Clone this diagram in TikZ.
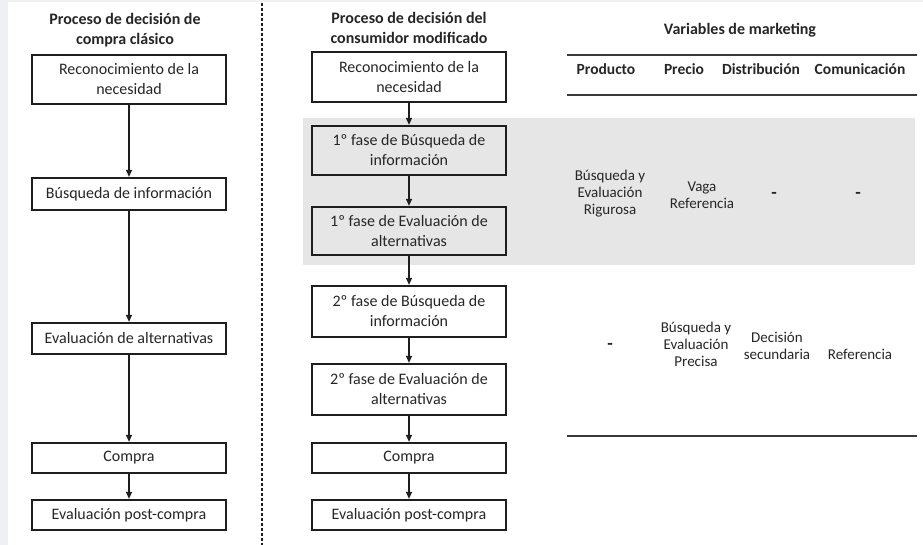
\documentclass[tikz,border=0pt]{standalone}
\usepackage{fontspec}
\setmainfont{Carlito}
\usetikzlibrary{arrows.meta}
\definecolor{boxc}{HTML}{1E1E1E}
\definecolor{txt}{HTML}{262626}
\definecolor{band}{HTML}{E6E6E6}
\definecolor{frame}{HTML}{EEF0F3}
\definecolor{rule}{HTML}{3A3A3A}
\begin{document}
\begin{tikzpicture}[x=1pt,y=-1pt,
  every node/.style={text=txt},
  stepbox/.style={draw=boxc, line width=2.3pt, fill=white, minimum width=194pt,
    align=center, inner sep=0pt, font=\fontsize{16}{20}\selectfont},
  title/.style={align=center, font=\fontsize{16}{20}\selectfont\bfseries},
  cell/.style={align=center, font=\fontsize{15}{17}\selectfont},
  dashcell/.style={font=\fontsize{18}{17}\selectfont\bfseries},
  head/.style={font=\fontsize{15.5}{17}\selectfont\bfseries},
  arr/.style={draw=boxc, line width=1.2pt, -{Triangle[width=6pt,length=7pt]}},
  tabrule/.style={draw=rule, line width=2pt}]
\useasboundingbox (0,0) rectangle (923,545);
% page frame
\fill[white] (0,0) rectangle (923,545);
\fill[frame] (0,0) rectangle (8,545);
\fill[frame] (0,0) rectangle (923,2.5);

% shaded band for the first search/evaluation phase
\fill[band] (303,118) rectangle (915,265);

% separator between the two processes
\draw[boxc, line width=1.2pt, dash pattern=on 3pt off 2pt] (262,3) -- (262,545);

% classic process
\node[title] (tL) at (125,30) {Proceso de decisión de\\compra clásico};
\node[stepbox, minimum height=49pt] (L1) at (129,79.5) {Reconocimiento de la\\necesidad};
\node[stepbox, minimum height=32pt] (L2) at (129,194) {Búsqueda de información};
\node[stepbox, minimum height=31pt] (L3) at (129,338.5) {Evaluación de alternativas};
\node[stepbox, minimum height=30pt] (L4) at (129,458) {Compra};
\node[stepbox, minimum height=30pt] (L5) at (129,515) {Evaluación post-compra};
\draw[arr] (L1) -- (L2);
\draw[arr] (L2) -- (L3);
\draw[arr] (L3) -- (L4);
\draw[arr] (L4) -- (L5);

% modified process
\node[title] (tM) at (409,28) {Proceso de decisión del\\consumidor modificado};
\node[stepbox, minimum height=50pt] (M1) at (409,77) {Reconocimiento de la\\necesidad};
\node[stepbox, minimum height=49pt, fill=band] (M2) at (409,150.5) {1º fase de Búsqueda de\\información};
\node[stepbox, minimum height=48pt, fill=band] (M3) at (409,231) {1º fase de Evaluación de\\alternativas};
\node[stepbox, minimum height=51pt] (M4) at (409,311.5) {2º fase de Búsqueda de\\información};
\node[stepbox, minimum height=51pt] (M5) at (409,389.5) {2º fase de Evaluación de\\alternativas};
\node[stepbox, minimum height=30pt] (M6) at (409,458) {Compra};
\node[stepbox, minimum height=30pt] (M7) at (409,515) {Evaluación post-compra};
\draw[arr] (M1) -- (M2);
\draw[arr] (M2) -- (M3);
\draw[arr] (M3) -- (M4);
\draw[arr] (M4) -- (M5);
\draw[arr] (M5) -- (M6);
\draw[arr] (M6) -- (M7);

% marketing variables table
\node[title] (tV) at (740,30) {Variables de marketing};
\coordinate (r1a) at (567,55);  \coordinate (r1b) at (917,55);
\coordinate (r2a) at (567,95);  \coordinate (r2b) at (917,95);
\coordinate (r3a) at (567,436); \coordinate (r3b) at (917,436);
\draw[tabrule] (r1a) -- (r1b);
\draw[tabrule] (r2a) -- (r2b);
\draw[tabrule] (r3a) -- (r3b);
\node[head] (hP) at (606,69) {Producto};
\node[head] (hR) at (684,69) {Precio};
\node[head] (hD) at (761,69) {Distribución};
\node[head] (hC) at (860,69) {Comunicación};

\node[cell] (a1) at (610,194) {Búsqueda y\\Evaluación\\Rigurosa};
\node[cell] (a2) at (702,195) {Vaga\\Referencia};
\node[dashcell] (a3) at (774,195) {-};
\node[dashcell] (a4) at (858,195) {-};

\node[dashcell] (b1) at (610,346) {-};
\node[cell] (b2) at (696,344) {Búsqueda y\\Evaluación\\Precisa};
\node[cell] (b3) at (777,346) {Decisión\\secundaria};
\node[cell] (b4) at (860,354) {Referencia};
\end{tikzpicture}
\end{document}
